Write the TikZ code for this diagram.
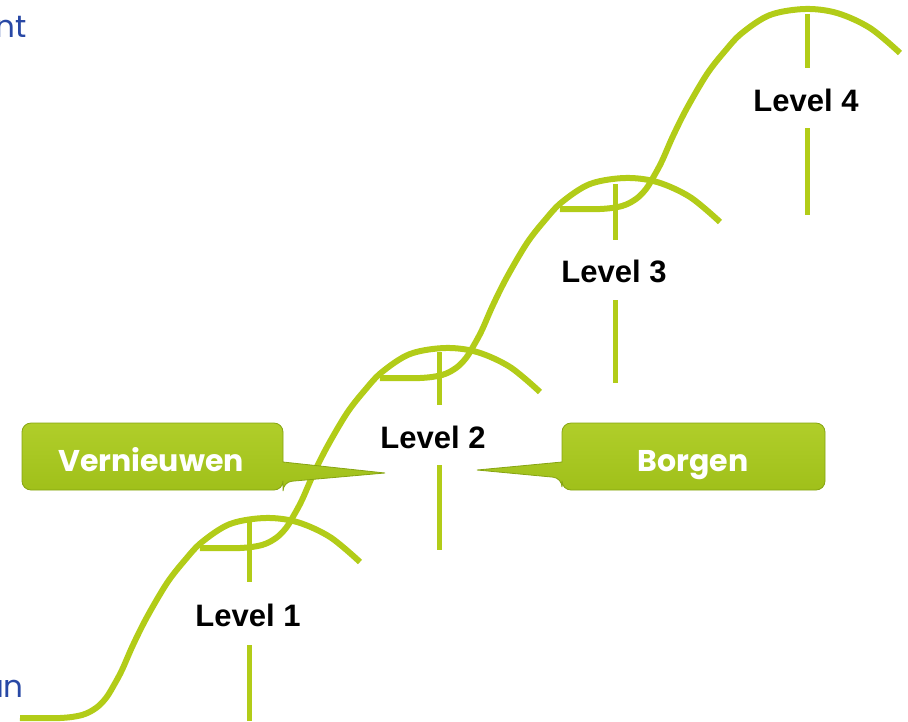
\documentclass[tikz,border=0pt]{standalone}
\usepackage{fontspec}
\setmainfont{Liberation Sans}
\newfontfamily\calloutfont{Poppins}
\definecolor{lime}{RGB}{178,204,24}
\definecolor{boxtop}{RGB}{176,206,42}
\definecolor{boxbot}{RGB}{160,192,26}
\definecolor{boxedge}{RGB}{134,164,18}
\definecolor{bluetxt}{RGB}{40,72,165}
\tikzset{
  curve/.style={draw=lime,line width=6pt},
  stem/.style={draw=lime,line width=5pt},
  levellabel/.style={font=\fontsize{31}{36}\selectfont\bfseries,text=black,inner sep=0pt},
  callout/.style={top color=boxtop,bottom color=boxbot,draw=boxedge,line width=0.8pt,rounded corners=9pt},
  callouttext/.style={font=\calloutfont\fontsize{30}{34}\selectfont\bfseries,text=white,inner sep=0pt},
  sidetext/.style={font=\calloutfont\fontsize{31}{36}\selectfont,text=bluetxt,inner sep=0pt}
}
\begin{document}
\begin{tikzpicture}[x=1pt,y=-1pt]
\useasboundingbox (0,0) rectangle (908,721);
% side texts (cut off at the left edge, as in the reference)
\node[sidetext,anchor=base east] (nt) at (27,37) {nt};
\node[sidetext,anchor=base east] (un) at (24,697) {un};
% stems
\draw[stem] (249,522) -- (249,582);
\draw[stem] (249,645) -- (249,721);
\draw[stem] (439,352) -- (439,405);
\draw[stem] (439,465) -- (439,550);
\draw[stem] (615,184) -- (615,240);
\draw[stem] (615,300) -- (615,383);
\draw[stem] (807,14) -- (807,68);
\draw[stem] (807,128) -- (807,215);
% curve pieces
\foreach \sx/\sy in {20/718, 200/548, 380/378, 560/209}{
  \begin{scope}[shift={(\sx,\sy)}]
  \draw[curve] plot[smooth,tension=0.55] coordinates {(0,0) (40,0) (62,-3) (76,-10) (86,-20) (94,-33) (102,-48) (113,-73) (127,-101) (147,-135) (165,-158) (182,-176) (210,-194) (245,-200) (277,-196) (310,-181) (340,-156)};
  \end{scope}
}
% labels
\node[levellabel] (l1) at (248,615) {Level 1};
\node[levellabel] (l2) at (433,437) {Level 2};
\node[levellabel] (l3) at (614,271) {Level 3};
\node[levellabel] (l4) at (806,100) {Level 4};
% callouts
\path[callout] (283,462) -- (283,423) -- (22,423) -- (22,490) -- (283,490) -- (283,482) [sharp corners] -- (385,473) -- cycle;
\path[callout] (562,462) -- (562,423) -- (825,423) -- (825,490) -- (562,490) -- (562,478) [sharp corners] -- (477,470) -- cycle;
\node[callouttext,anchor=base] (vern) at (151,471) {Vernieuwen};
\node[callouttext,anchor=base] (borg) at (693,471) {Borgen};
\end{tikzpicture}
\end{document}
